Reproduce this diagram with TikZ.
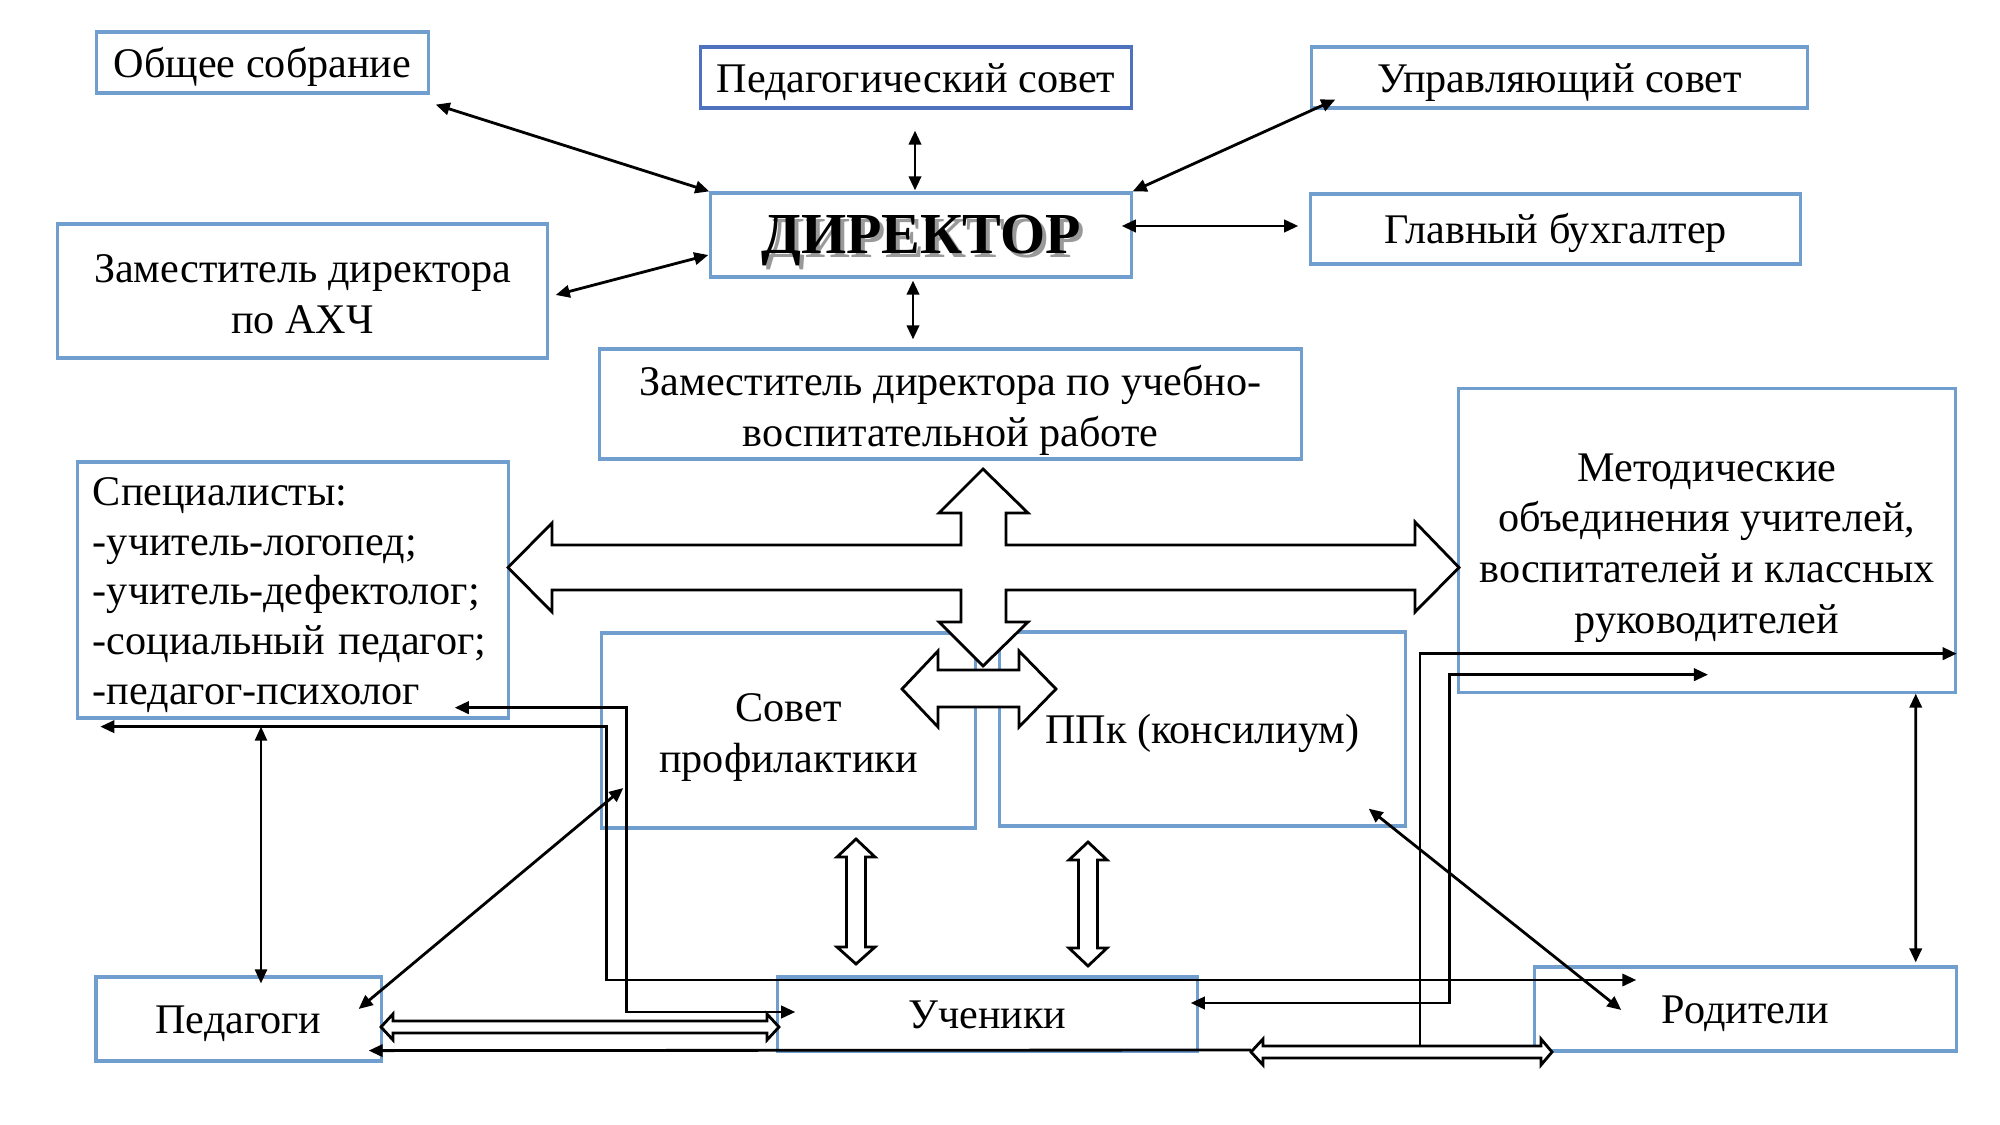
\documentclass[tikz,border=0pt]{standalone}
\usepackage{fontspec}
\setmainfont{Liberation Serif}
\usepackage{tikz}
\usetikzlibrary{arrows.meta}
\definecolor{boxblue}{RGB}{112,158,206}
\definecolor{pedblue}{RGB}{78,114,190}
\newcommand{\boxstrut}{\rule[-3pt]{0pt}{14.5pt}}
\newcommand{\topstrut}{\rule{0pt}{12.5pt}}

\begin{document}
\begin{tikzpicture}[x=0.01cm, y=-0.01cm,
    box/.style={draw=boxblue, line width=0.9pt, inner sep=0pt, align=center,
                font=\fontsize{12}{14.4}\selectfont,
                execute at begin node=\boxstrut, execute at end node=\boxstrut},
    multi/.style={box, execute at begin node={}, execute at end node={}},
    link/.style={line width=0.8pt, {Triangle[length=4pt,width=3.5pt]}-{Triangle[length=4pt,width=3.5pt]}},
    oneway/.style={line width=0.8pt, -{Triangle[length=4pt,width=3.5pt]}},
    blockarrow/.style={draw, fill=white, line width=0.8pt, line join=miter}]

    \useasboundingbox (0,0) rectangle (2000,1125);

    % top row
    \node[box, minimum width=3.31cm, minimum height=0.61cm] (obs) at (262.5,62.5) {Общее собрание};
    \node[box, draw=pedblue, minimum width=4.30cm, minimum height=0.61cm] (ped) at (916,77.5) {Педагогический совет};
    \node[box, minimum width=4.95cm, minimum height=0.61cm] (upr) at (1559.5,77.5) {Управляющий совет};

    % director and neighbours
    \node[box, minimum width=4.20cm, minimum height=0.84cm, font=\fontsize{16.5}{18}\selectfont\bfseries] (dir) at (921,235)
        {\raisebox{-1.8pt}[\height][\depth]{\makebox[0pt][l]{\kern1.2pt\raisebox{-1.2pt}{\color{black!40}ДИРЕКТОР}}ДИРЕКТОР}};
    \node[box, minimum width=4.89cm, minimum height=0.70cm] (buh) at (1555.5,229) {Главный бухгалтер};
    \node[multi, minimum width=4.89cm, minimum height=1.34cm] (ahch) at (302.5,291) {\topstrut Заместитель директора\\по АХЧ};
    \node[multi, minimum width=7.01cm, minimum height=1.10cm] (uvr) at (950.5,404) {\topstrut Заместитель директора по учебно-\\воспитательной работе};

    % middle row
    \node[box, minimum height=2.56cm, text width=4.0cm, inner xsep=0.15cm, align=left,
          font=\fontsize{12}{14.2}\selectfont] (spec) at (293,590)
        {Специалисты:\\-учитель-логопед;\\-учитель-дефектолог;\\-социальный педагог;\\-педагог-психолог};
    \node[multi, minimum width=4.96cm, minimum height=3.03cm] (met) at (1707,540.5)
        {\topstrut Методические\\объединения учителей,\\воспитателей и классных\\руководителей};
    \node[multi, minimum width=3.73cm, minimum height=1.95cm] (sov) at (788.5,730.5) {\topstrut Совет\\профилактики};
    \node[box, minimum width=4.05cm, minimum height=1.94cm] (ppk) at (1202.5,729) {ППк (консилиум)};

    % bottom row
    \node[box, minimum width=2.85cm, minimum height=0.84cm] (peda) at (238.5,1019) {Педагоги};
    \node[box, minimum width=4.19cm, minimum height=0.74cm] (uch) at (987.5,1014) {Ученики};
    \node[box, minimum width=4.21cm, minimum height=0.84cm] (rod) at (1745.5,1009) {Родители};

    % links around the director
    \draw[link] ([shift={(6,10)}]obs.south east) -- (dir.north west);
    \draw[link] ([shift={(-1,21)}]ped.south) -- ([shift={(-6,-1)}]dir.north);
    \draw[link] ([shift={(25,-10)}]upr.south west) -- (dir.north east);
    \draw[link] ([shift={(-11,-9)}]dir.east) -- ([shift={(-11,-3)}]buh.west);
    \draw[link] ([shift={(7,4)}]ahch.east) -- ([shift={(-1,20)}]dir.west);
    \draw[link] ([shift={(-8,2)}]dir.south) -- ([shift={(-37.5,-8)}]uvr.north);

    % big cross arrow
    \draw[blockarrow] (983,469) -- (1028,513) -- (1006,513) -- (1006,545) -- (1415,545) -- (1415,522)
        -- (1459,567.5) -- (1415,612) -- (1415,590) -- (1006,590) -- (1006,622) -- (1028,622)
        -- (983,666) -- (939,622) -- (961,622) -- (961,590) -- (552,590) -- (552,612)
        -- (508,567.5) -- (552,523) -- (552,545) -- (961,545) -- (961,513) -- (939,513) -- cycle;

    % Sovet <-> PPk
    \draw[blockarrow] (902,689) -- (938,651) -- (938,670) -- (1019,670) -- (1019,651) -- (1056,689)
        -- (1019,727) -- (1019,707) -- (938,707) -- (938,727) -- cycle;

    % down to pupils
    \draw[blockarrow] (856,839) -- (875,857) -- (865.5,857) -- (865.5,947) -- (875,947) -- (856,964)
        -- (837,947) -- (846.5,947) -- (846.5,857) -- (837,857) -- cycle;
    \draw[blockarrow] (1088,842) -- (1107,860) -- (1097.5,860) -- (1097.5,948) -- (1107,948) -- (1088,966)
        -- (1069,948) -- (1078.5,948) -- (1078.5,860) -- (1069,860) -- cycle;

    % teachers <-> pupils
    \draw[blockarrow] (381,1027) -- (393,1014) -- (393,1021) -- (767,1021) -- (767,1014) -- (779,1027)
        -- (767,1040) -- (767,1033) -- (393,1033) -- (393,1040) -- cycle;

    % pupils <-> parents
    \draw[blockarrow] (1251,1052) -- (1263,1039) -- (1263,1046) -- (1541,1046) -- (1541,1039) -- (1552,1052)
        -- (1541,1065) -- (1541,1058) -- (1263,1058) -- (1263,1065) -- cycle;
    \coordinate (botL) at (1251,1050);
    \coordinate (botT) at (1420,1046);

    % lines in the lower part
    \draw[link] ([shift={(-55,-12)}]spec.south east) -- ++(172,0) |- ([shift={(19,-2)}]uch.west);
    \draw[link] ([shift={(24,7)}]spec.south west) -- ++(506,0) |- ([shift={(103,-29)}]rod.west);
    \draw[link, line width=0.5pt] ([shift={(-32,7)}]spec.south) -- ([shift={(22.5,8)}]peda.north);
    \draw[link] ([shift={(-24,-10)}]peda.east) -- ([shift={(23,57.5)}]sov.west);
    \draw[oneway] (botT) |- ([shift={(0,-40)}]met.south east);
    \draw[link] ([shift={(-8,-11)}]uch.east) -- ++(259,0) |- ([shift={(1,-19)}]met.south);
    \draw[link] ([shift={(-38,-19)}]ppk.south east) -- ([shift={(88,1)}]rod.west);
    \draw[link] ([shift={(-41,0)}]met.south east) -- ([shift={(-42,-3)}]rod.north east);
    \draw[oneway] (botL) -- ([shift={(-14,-12)}]peda.south east);
\end{tikzpicture}
\end{document}
